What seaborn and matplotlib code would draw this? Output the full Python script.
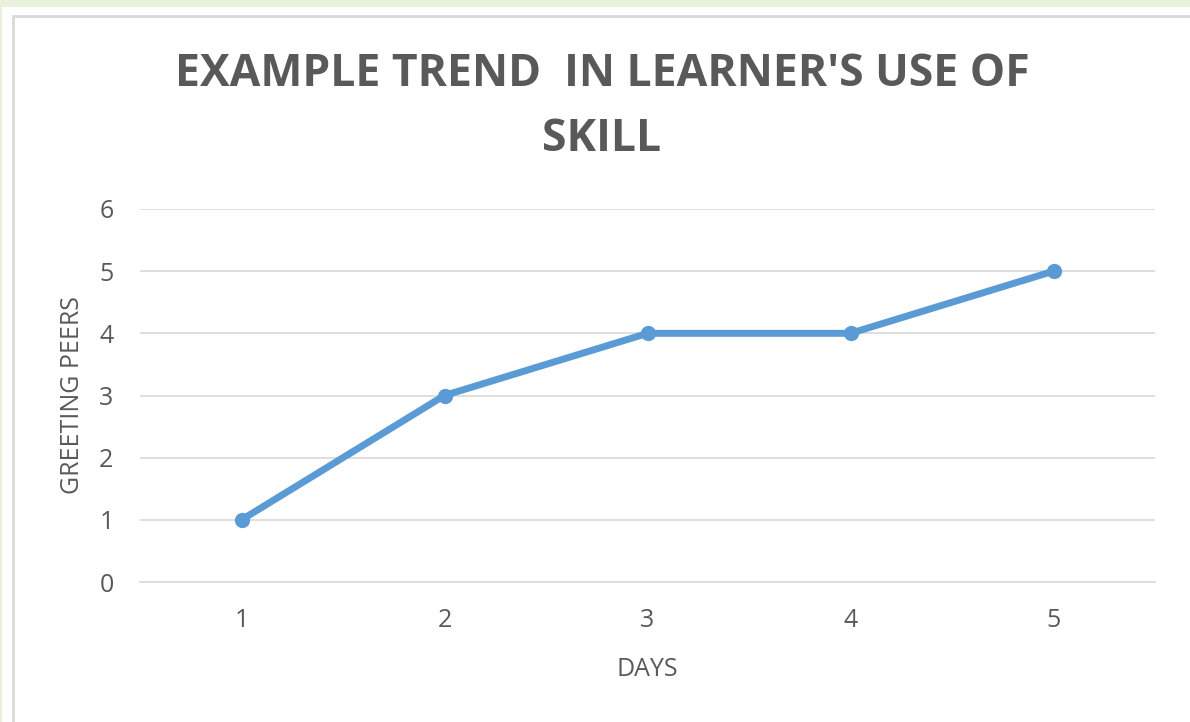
import pandas as pd
import seaborn as sns
import matplotlib.pyplot as plt
from matplotlib.patches import Rectangle

# data
days = [1, 2, 3, 4, 5]
greeting_peers = [1, 3, 4, 4, 5]
y_ticks = [0, 1, 2, 3, 4, 5, 6]

df = pd.DataFrame({"DAYS": days, "GREETING PEERS": greeting_peers})

sns.set_theme(style="white")
plt.rcParams['font.family'] = ['Open Sans', 'DejaVu Sans']

txt = "#595959"
fig = plt.figure(figsize=(11.9, 7.22), dpi=100)

# page background: light green band + chart frame
fig.patches.append(Rectangle((0, 0), 1, 1, transform=fig.transFigure,
                             facecolor="#E9F0DC", edgecolor="none", zorder=-3))
fig.patches.append(Rectangle((2 / 1190, 0), 1, 1 - 7 / 722, transform=fig.transFigure,
                             facecolor="white", edgecolor="none", zorder=-2))
fig.patches.append(Rectangle((13 / 1190, -0.05), 1.1, 1 - 16 / 722 + 0.05,
                             transform=fig.transFigure, facecolor="white",
                             edgecolor="#D9D9D9", linewidth=2, zorder=-1))

ax = fig.add_axes([140 / 1190, 140 / 722, 1015 / 1190, 373 / 722])
ax.patch.set_alpha(0)

sns.lineplot(data=df, x="DAYS", y="GREETING PEERS", ax=ax, color="#5B9BD5",
             linewidth=5, marker="o", markersize=11, markeredgewidth=0,
             zorder=3)

ax.set_xlim(0.5, 5.5)
ax.set_ylim(0, 6)
ax.set_xticks(days)
ax.set_yticks(y_ticks)
ax.yaxis.grid(True, color="#D9D9D9", linewidth=1.2)
ax.xaxis.grid(False)
for s in ["top", "right", "left"]:
    ax.spines[s].set_visible(False)
ax.spines["bottom"].set_color("#D9D9D9")
ax.spines["bottom"].set_linewidth(1.2)
ax.tick_params(axis="both", length=0, labelsize=18, labelcolor=txt)
ax.tick_params(axis="x", pad=19)
ax.tick_params(axis="y", pad=19)

ax.set_xlabel("DAYS", fontsize=18, color=txt, labelpad=17)
ax.set_ylabel("GREETING PEERS", fontsize=18, color=txt, labelpad=10)

fig.text(602 / 1190, 1 - 107 / 722, "EXAMPLE TREND  IN LEARNER'S USE OF\nSKILL",
         ha="center", va="center", fontsize=32, fontweight="bold", color=txt,
         linespacing=1.57)

fig.savefig("out.png", dpi=100)
